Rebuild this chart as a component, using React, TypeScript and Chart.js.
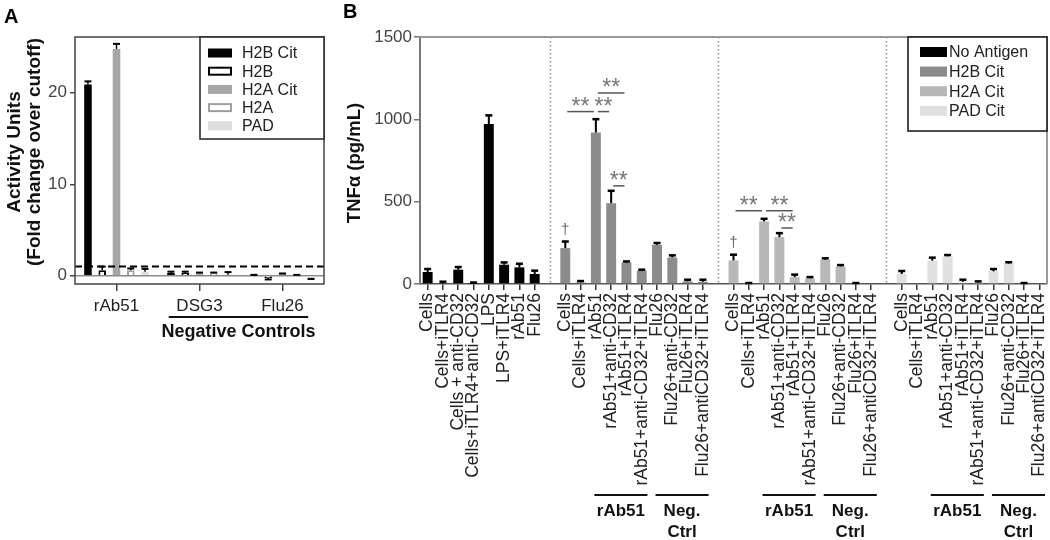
import React, { useEffect, useRef } from "react";
import { Chart, registerables } from "chart.js";
Chart.register(...registerables);

const FONT = "'Liberation Sans', Arial, Helvetica, sans-serif";
const TEXT = "#222";

// ---------------- Panel A data ----------------
const aCategories = ["rAb51", "DSG3", "Flu26"];
const aSeries = ["H2B Cit", "H2B", "H2A Cit", "H2A", "PAD"];
const aH2BCit = [20.9, 0.3, 0.05];
const aH2BCitErr = [0.35, 0.15, 0.05];
const aH2B = [0.6, 0.3, -0.25];
const aH2BErr = [0.4, 0.15, 0.15];
const aH2ACit = [24.8, 0.25, 0.2];
const aH2ACitErr = [0.55, 0.1, 0.05];
const aH2A = [0.6, 0.25, 0.05];
const aH2AErr = [0.2, 0.1, 0.05];
const aPAD = [0.45, 0.1, -0.3];
const aPADErr = [0.3, 0.3, 0.05];
const aYTicks = [0, 10, 20];
const aCutoff = 1;
const aTitle = ["Activity Units", "(Fold change over cutoff)"];
const aNegLabel = "Negative Controls";

// ---------------- Panel B data ----------------
const bNoAntigenLabels = [
  "Cells",
  "Cells+iTLR4",
  "Cells + anti-CD32",
  "Cells+iTLR4+anti-CD32",
  "LPS",
  "LPS+iTLR4",
  "rAb51",
  "Flu26",
];
const bAntigenLabels = [
  "Cells",
  "Cells+iTLR4",
  "rAb51",
  "rAb51+anti-CD32",
  "rAb51+iTLR4",
  "rAb51+anti-CD32+iTLR4",
  "Flu26",
  "Flu26+anti-CD32",
  "Flu26+iTLR4",
  "Flu26+antiCD32+iTLR4",
];
const bSeries = ["No Antigen", "H2B Cit", "H2A Cit", "PAD Cit"];
const bNoAntigen = [73, 4, 87, 1, 972, 117, 101, 61];
const bNoAntigenErr = [18, 10, 16, 8, 52, 14, 22, 20];
const bH2BCit = [218, 10, 920, 491, 131, 81, 238, 161, 16, 14];
const bH2BCitErr = [40, 8, 81, 75, 6, 6, 11, 13, 10, 12];
const bH2ACit = [143, 0, 380, 285, 42, 34, 148, 107, 0, 0];
const bH2ACitErr = [35, 6, 16, 24, 15, 8, 8, 8, 6, 0];
const bPADCit = [61, 0, 142, 168, 14, 8, 77, 124, 0, 0];
const bPADCitErr = [18, 0, 18, 8, 12, 8, 14, 8, 6, 0];
const bYTicks = [0, 500, 1000, 1500];
const bTitle = "TNFα (pg/mL)";
// significance brackets: group (1 = H2B Cit, 2 = H2A Cit), bar indices within group, height in pg/mL
const bBrackets = [
  { group: 1, from: 0, to: 2, at: 1047 },
  { group: 1, from: 2, to: 3, at: 1047 },
  { group: 1, from: 2, to: 4, at: 1160 },
  { group: 1, from: 3, to: 4, at: 596 },
  { group: 2, from: 0, to: 2, at: 445 },
  { group: 2, from: 2, to: 4, at: 445 },
  { group: 2, from: 3, to: 4, at: 340 },
];
const bBracketText = "**";
const bDaggers = [
  { group: 1, index: 0 },
  { group: 2, index: 0 },
];
const bSubgroups = [
  { lines: ["rAb51"], from: 2, to: 5 },
  { lines: ["Neg.", "Ctrl"], from: 6, to: 9 },
];

// ---------------- assembled B structure ----------------
const bGroupLabels = [bNoAntigenLabels, bAntigenLabels, bAntigenLabels, bAntigenLabels];
const bGroupValues = [bNoAntigen, bH2BCit, bH2ACit, bPADCit];
const bGroupErrors = [bNoAntigenErr, bH2BCitErr, bH2ACitErr, bPADCitErr];
const bColors = ["#000000", "#8c8c8c", "#b8b8b8", "#e0e0e0"];
const bLabels: string[] = [];
const bStarts: number[] = [];
const bGaps: number[] = [];
bGroupLabels.forEach((g, gi) => {
  if (gi > 0) {
    bGaps.push(bLabels.length);
    bLabels.push("");
  }
  bStarts.push(bLabels.length);
  g.forEach((l) => bLabels.push(l));
});

// ---------------- plugins ----------------
const errorBarPlugin = {
  id: "errorBars",
  afterDatasetsDraw(chart: any, _args: any, opts: any) {
    const { ctx } = chart;
    const ys = chart.scales.y;
    chart.data.datasets.forEach((ds: any, di: number) => {
      if (!ds.errors) return;
      const meta = chart.getDatasetMeta(di);
      meta.data.forEach((el: any, j: number) => {
        const v = ds.data[j];
        const e = ds.errors[j];
        if (v == null || e == null || e <= 0) return;
        const sign = v < 0 ? -1 : 1;
        const y0 = ys.getPixelForValue(v);
        const y1 = ys.getPixelForValue(v + sign * e);
        const x = el.x;
        ctx.save();
        ctx.strokeStyle = "#000";
        ctx.lineWidth = opts.lineWidth || 2;
        ctx.beginPath();
        ctx.moveTo(x, y0);
        ctx.lineTo(x, y1);
        ctx.stroke();
        ctx.lineWidth = opts.capWidth || 2;
        ctx.beginPath();
        ctx.moveTo(x - opts.capHalf, y1);
        ctx.lineTo(x + opts.capHalf, y1);
        ctx.stroke();
        ctx.restore();
      });
    });
  },
};

function rotatedText(ctx: any, text: string, x: number, y: number, font: string, color: string) {
  ctx.save();
  ctx.translate(x, y);
  ctx.rotate(-Math.PI / 2);
  ctx.font = font;
  ctx.fillStyle = color;
  ctx.textAlign = "center";
  ctx.textBaseline = "middle";
  ctx.fillText(text, 0, 0);
  ctx.restore();
}

const decorAPlugin = {
  id: "decorA",
  beforeDatasetsDraw(chart: any) {
    const { ctx, chartArea: ca, scales } = chart;
    const y0 = scales.y.getPixelForValue(0);
    ctx.save();
    ctx.strokeStyle = "#8a8a8a";
    ctx.lineWidth = 1.5;
    ctx.beginPath();
    ctx.moveTo(ca.left, y0);
    ctx.lineTo(ca.right, y0);
    ctx.stroke();
    ctx.restore();
  },
  afterDatasetsDraw(chart: any) {
    const { ctx, chartArea: ca, scales } = chart;
    const yc = scales.y.getPixelForValue(aCutoff);
    ctx.save();
    ctx.strokeStyle = "#000";
    ctx.lineWidth = 2;
    ctx.setLineDash([7, 4]);
    ctx.beginPath();
    ctx.moveTo(ca.left, yc);
    ctx.lineTo(ca.right, yc);
    ctx.stroke();
    ctx.restore();
  },
  afterDraw(chart: any) {
    const { ctx, chartArea: ca, scales } = chart;
    const xs = scales.x;
    ctx.save();
    // frame
    ctx.strokeStyle = "#444";
    ctx.lineWidth = 1.5;
    ctx.strokeRect(ca.left, ca.top, ca.right - ca.left, ca.bottom - ca.top);
    // legend
    const lx = 200, ly = 37, lw = 124, lh = 102;
    ctx.fillStyle = "#fff";
    ctx.fillRect(lx, ly, lw, lh);
    ctx.strokeStyle = "#222";
    ctx.lineWidth = 1.5;
    ctx.strokeRect(lx, ly, lw, lh);
    const ds = chart.data.datasets;
    ds.forEach((d: any, i: number) => {
      const cy = 53 + i * 18.2;
      const sx = 208, sw = 24, sh = 9;
      if (d.borderWidth > 0) {
        ctx.fillStyle = "#fff";
        ctx.fillRect(sx, cy - sh / 2, sw, sh);
        ctx.strokeStyle = d.borderColor;
        ctx.lineWidth = 2;
        ctx.strokeRect(sx + 1, cy - sh / 2 + 1, sw - 2, sh - 2);
      } else {
        ctx.fillStyle = d.backgroundColor;
        ctx.fillRect(sx, cy - sh / 2, sw, sh);
      }
      ctx.fillStyle = TEXT;
      ctx.font = `16px ${FONT}`;
      ctx.textAlign = "left";
      ctx.textBaseline = "middle";
      ctx.fillText(d.label, 242, cy + 1);
    });
    // negative controls underline
    const slot = xs.getPixelForValue(1) - xs.getPixelForValue(0);
    const x1 = xs.getPixelForValue(1) - 0.37 * slot;
    const x2 = xs.getPixelForValue(2) + 0.31 * slot;
    ctx.strokeStyle = "#111";
    ctx.lineWidth = 2;
    ctx.beginPath();
    ctx.moveTo(x1, 317);
    ctx.lineTo(x2, 317);
    ctx.stroke();
    ctx.fillStyle = "#111";
    ctx.font = `bold 18px ${FONT}`;
    ctx.textAlign = "center";
    ctx.textBaseline = "middle";
    ctx.fillText(aNegLabel, (x1 + x2) / 2, 332);
    // y title
    rotatedText(ctx, aTitle[0], 15, 152, `bold 19px ${FONT}`, "#111");
    rotatedText(ctx, aTitle[1], 35, 152, `bold 19px ${FONT}`, "#111");
    // panel letter
    ctx.fillStyle = "#000";
    ctx.font = `bold 20px ${FONT}`;
    ctx.textAlign = "left";
    ctx.textBaseline = "alphabetic";
    ctx.fillText("A", 4, 23);
    ctx.restore();
  },
};

const decorBPlugin = {
  id: "decorB",
  beforeDatasetsDraw(chart: any) {
    const { ctx, chartArea: ca, scales } = chart;
    ctx.save();
    ctx.strokeStyle = "#8f8f8f";
    ctx.lineWidth = 1.5;
    ctx.setLineDash([1.5, 2.5]);
    bGaps.forEach((g) => {
      const x = Math.round(scales.x.getPixelForValue(g)) + 0.5;
      ctx.beginPath();
      ctx.moveTo(x, ca.top);
      ctx.lineTo(x, ca.bottom);
      ctx.stroke();
    });
    ctx.restore();
  },
  afterDraw(chart: any) {
    const { ctx, chartArea: ca, scales } = chart;
    const xs = scales.x;
    const ys = scales.y;
    const slot = xs.getPixelForValue(1) - xs.getPixelForValue(0);
    ctx.save();
    // top and right borders
    ctx.strokeStyle = "#9a9a9a";
    ctx.lineWidth = 2;
    ctx.beginPath();
    ctx.moveTo(ca.left, ca.top);
    ctx.lineTo(ca.right, ca.top);
    ctx.lineTo(ca.right, ca.bottom);
    ctx.stroke();
    // brackets
    bBrackets.forEach((b) => {
      const xa = xs.getPixelForValue(bStarts[b.group] + b.from) + 2;
      const xb = xs.getPixelForValue(bStarts[b.group] + b.to) - 2;
      const y = ys.getPixelForValue(b.at);
      ctx.strokeStyle = "#555";
      ctx.lineWidth = 1.5;
      ctx.beginPath();
      ctx.moveTo(xa, y);
      ctx.lineTo(xb, y);
      ctx.stroke();
      ctx.fillStyle = "#777";
      ctx.font = `23px ${FONT}`;
      ctx.textAlign = "center";
      ctx.textBaseline = "alphabetic";
      ctx.fillText(bBracketText, (xa + xb) / 2, y + 2);
    });
    // daggers
    bDaggers.forEach((d) => {
      const idx = bStarts[d.group] + d.index;
      const v = bGroupValues[d.group][d.index] + bGroupErrors[d.group][d.index];
      const y = ys.getPixelForValue(v) - 12;
      ctx.fillStyle = "#666";
      ctx.font = `15px ${FONT}`;
      ctx.textAlign = "center";
      ctx.textBaseline = "middle";
      ctx.fillText("†", xs.getPixelForValue(idx), y);
    });
    // subgroup lines and labels
    for (let g = 1; g < bStarts.length; g++) {
      bSubgroups.forEach((s) => {
        const x1 = xs.getPixelForValue(bStarts[g] + s.from) - 0.1 * slot;
        const x2 = xs.getPixelForValue(bStarts[g] + s.to) + 0.37 * slot;
        ctx.strokeStyle = "#111";
        ctx.lineWidth = 2;
        ctx.beginPath();
        ctx.moveTo(x1, 495);
        ctx.lineTo(x2, 495);
        ctx.stroke();
        ctx.fillStyle = "#111";
        ctx.font = `bold 17px ${FONT}`;
        ctx.textAlign = "center";
        ctx.textBaseline = "middle";
        s.lines.forEach((t, li) => ctx.fillText(t, (x1 + x2) / 2, 511 + li * 21));
      });
    }
    // legend
    const lx = 568, ly = 37, lw = 139, lh = 94;
    ctx.fillStyle = "#fff";
    ctx.fillRect(lx, ly, lw, lh);
    ctx.strokeStyle = "#111";
    ctx.lineWidth = 1.5;
    ctx.strokeRect(lx, ly, lw, lh);
    chart.data.datasets.forEach((d: any, i: number) => {
      const cy = 52 + i * 19.6;
      ctx.fillStyle = d.backgroundColor;
      ctx.fillRect(580, cy - 5, 27, 10);
      ctx.fillStyle = TEXT;
      ctx.font = `16px ${FONT}`;
      ctx.textAlign = "left";
      ctx.textBaseline = "middle";
      ctx.fillText(d.label, 609, cy + 1);
    });
    // y title
    rotatedText(ctx, bTitle, 15, 163, `bold 18.5px ${FONT}`, "#111");
    // panel letter
    ctx.fillStyle = "#000";
    ctx.font = `bold 20px ${FONT}`;
    ctx.textAlign = "left";
    ctx.textBaseline = "alphabetic";
    ctx.fillText("B", 3, 18);
    ctx.restore();
  },
};

const plainNumber = (v: any) => String(v);

function configA(): any {
  return {
    type: "bar",
    data: {
      labels: aCategories,
      datasets: [
        { label: aSeries[0], data: aH2BCit, errors: aH2BCitErr, backgroundColor: "#000000", borderWidth: 0 },
        { label: aSeries[1], data: aH2B, errors: aH2BErr, backgroundColor: "#ffffff", borderColor: "#000000", borderWidth: 2 },
        { label: aSeries[2], data: aH2ACit, errors: aH2ACitErr, backgroundColor: "#a6a6a6", borderWidth: 0 },
        { label: aSeries[3], data: aH2A, errors: aH2AErr, backgroundColor: "#ffffff", borderColor: "#a0a0a0", borderWidth: 2 },
        { label: aSeries[4], data: aPAD, errors: aPADErr, backgroundColor: "#dedede", borderWidth: 0 },
      ],
    },
    options: {
      responsive: false,
      animation: false,
      devicePixelRatio: 1,
      layout: { padding: { left: 0, right: 16, top: 37, bottom: 0 } },
      datasets: { bar: { categoryPercentage: 0.86, barPercentage: 0.53 } },
      plugins: {
        legend: { display: false },
        tooltip: { enabled: false },
        errorBars: { lineWidth: 1.5, capWidth: 2, capHalf: 3.5 },
      },
      scales: {
        x: {
          type: "category",
          offset: true,
          grid: { offset: false, drawOnChartArea: false, drawTicks: true, tickLength: 7, color: "#444", lineWidth: 1.5 },
          border: { display: false },
          ticks: { font: { family: FONT, size: 17 }, color: TEXT, padding: 5, maxRotation: 0, autoSkip: false },
          afterFit: (s: any) => {
            s.height = 256;
            s.paddingLeft = 0;
            s.paddingRight = 0;
          },
        },
        y: {
          min: -0.9,
          max: 26.1,
          afterBuildTicks: (s: any) => {
            s.ticks = aYTicks.map((v) => ({ value: v }));
          },
          grid: { drawOnChartArea: false, drawTicks: true, tickLength: 5, color: "#444", lineWidth: 1.5 },
          border: { display: false },
          ticks: { font: { family: FONT, size: 17 }, color: "#444", padding: 3, callback: plainNumber },
          afterFit: (s: any) => {
            s.width = 75;
            s.paddingTop = 0;
            s.paddingBottom = 0;
          },
        },
      },
    },
    plugins: [errorBarPlugin, decorAPlugin],
  };
}

function configB(): any {
  const datasets = bGroupValues.map((vals, gi) => {
    const data: (number | null)[] = bLabels.map(() => null);
    const errors: (number | null)[] = bLabels.map(() => null);
    vals.forEach((v, i) => {
      data[bStarts[gi] + i] = v;
      errors[bStarts[gi] + i] = bGroupErrors[gi][i];
    });
    return {
      label: bSeries[gi],
      data,
      errors,
      backgroundColor: bColors[gi],
      borderWidth: 0,
      grouped: false,
    };
  });
  return {
    type: "bar",
    data: { labels: bLabels, datasets },
    options: {
      responsive: false,
      animation: false,
      devicePixelRatio: 1,
      layout: { padding: { left: 0, right: 3, top: 37, bottom: 0 } },
      datasets: { bar: { categoryPercentage: 1, barPercentage: 0.65 } },
      plugins: {
        legend: { display: false },
        tooltip: { enabled: false },
        errorBars: { lineWidth: 2, capWidth: 2.5, capHalf: 3.5 },
      },
      scales: {
        x: {
          type: "category",
          offset: true,
          grid: {
            offset: false,
            drawOnChartArea: false,
            drawTicks: true,
            tickLength: 6,
            lineWidth: 1.5,
            color: (c: any) => (bLabels[c.index] === "" ? "rgba(0,0,0,0)" : "#333"),
          },
          border: { display: true, color: "#555", width: 1.5 },
          ticks: {
            font: { family: FONT, size: 17.5 },
            color: TEXT,
            padding: 3,
            minRotation: 90,
            maxRotation: 90,
            autoSkip: false,
          },
          afterFit: (s: any) => {
            s.height = 256;
            s.paddingLeft = 0;
            s.paddingRight = 0;
          },
        },
        y: {
          min: 0,
          max: 1500,
          afterBuildTicks: (s: any) => {
            s.ticks = bYTicks.map((v) => ({ value: v }));
          },
          grid: { drawOnChartArea: false, drawTicks: true, tickLength: 6, color: "#777", lineWidth: 1.5 },
          border: { display: true, color: "#777", width: 2 },
          ticks: { font: { family: FONT, size: 17 }, color: "#444", padding: 2, callback: plainNumber },
          afterFit: (s: any) => {
            s.width = 80;
            s.paddingTop = 0;
            s.paddingBottom = 0;
          },
        },
      },
    },
    plugins: [errorBarPlugin, decorBPlugin],
  };
}

export default function App() {
  const refA = useRef<HTMLCanvasElement>(null);
  const refB = useRef<HTMLCanvasElement>(null);
  useEffect(() => {
    const chartA = new Chart(refA.current as HTMLCanvasElement, configA());
    const chartB = new Chart(refB.current as HTMLCanvasElement, configB());
    return () => {
      chartA.destroy();
      chartB.destroy();
    };
  }, []);
  return (
    <div style={{ position: "fixed", left: 0, top: 0, width: 1050, height: 540, background: "#fff" }}>
      <canvas ref={refA} width={340} height={540} style={{ position: "absolute", left: 0, top: 0, width: 340, height: 540 }} />
      <canvas ref={refB} width={710} height={540} style={{ position: "absolute", left: 340, top: 0, width: 710, height: 540 }} />
    </div>
  );
}
